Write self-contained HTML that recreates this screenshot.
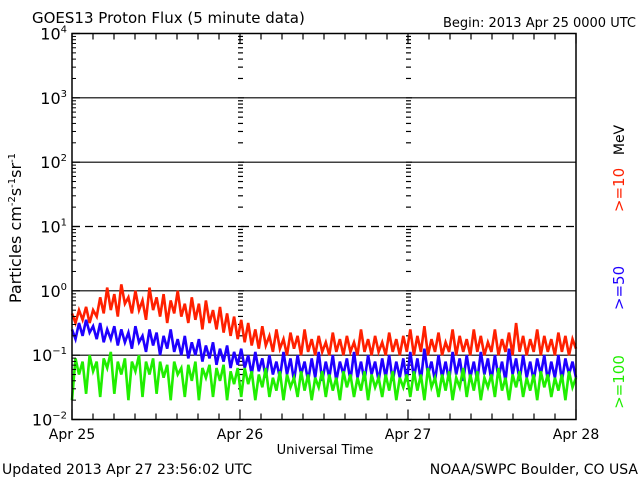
<!DOCTYPE html>
<html><head><meta charset="utf-8"><style>
body{margin:0;background:#fff;}
svg{display:block;font-family:"DejaVu Sans","Liberation Sans",sans-serif;}
</style></head><body>
<svg id="c" width="640" height="480" viewBox="0 0 640 480">
<text x="32" y="23" font-size="15">GOES13 Proton Flux (5 minute data)</text>
<text x="636" y="27" font-size="13" text-anchor="end">Begin: 2013 Apr 25 0000 UTC</text>
<text transform="translate(21,228) rotate(-90)" font-size="16" text-anchor="middle">Particles cm<tspan dy="-6" font-size="10">-2</tspan><tspan dy="6">s</tspan><tspan dy="-6" font-size="10">-1</tspan><tspan dy="6">sr</tspan><tspan dy="-6" font-size="10">-1</tspan></text>
<text transform="translate(624,140) rotate(-90)" font-size="14" text-anchor="middle">MeV</text>
<text transform="translate(624,190) rotate(-90)" font-size="15" fill="#ff2000" text-anchor="middle">&gt;=10</text>
<text transform="translate(624,288) rotate(-90)" font-size="15" fill="#1f00ff" text-anchor="middle">&gt;=50</text>
<text transform="translate(624,382) rotate(-90)" font-size="15" fill="#20ee00" text-anchor="middle">&gt;=100</text>
<text x="325" y="454" font-size="13" text-anchor="middle">Universal Time</text>
<text x="2" y="474" font-size="14">Updated 2013 Apr 27 23:56:02 UTC</text>
<text x="638" y="474" font-size="14" text-anchor="end">NOAA/SWPC Boulder, CO USA</text>
<g id="grid"></g><g id="series"></g><g id="axes"></g>
</svg>
<script>
const dayLabels=["Apr 25","Apr 26","Apr 27","Apr 28"];
const decades=[-2,-1,0,1,2,3,4];
const solidGrid=[3,2,0,-1];
const dashedGrid=[1];
const redVals=[-0.35,-0.5,-0.3,-0.45,-0.25,-0.5,-0.3,-0.4,-0.1,-0.35,0.05,-0.3,-0.05,-0.4,0.1,-0.2,-0.1,-0.35,0.0,-0.3,-0.15,-0.45,0.05,-0.3,-0.1,-0.4,-0.05,-0.5,-0.15,-0.35,0.0,-0.4,-0.2,-0.5,-0.1,-0.45,-0.2,-0.6,-0.15,-0.5,-0.3,-0.6,-0.25,-0.65,-0.35,-0.7,-0.4,-0.75,
-0.45,-0.8,-0.5,-0.85,-0.6,-0.9,-0.55,-0.85,-0.7,-0.95,-0.6,-0.9,-0.75,-1.0,-0.65,-0.9,-0.7,-1.0,-0.6,-0.95,-0.75,-1.0,-0.7,-0.95,-0.8,-1.0,-0.65,-0.95,-0.75,-1.0,-0.7,-0.95,-0.8,-1.0,-0.6,-0.95,-0.75,-1.0,-0.7,-0.95,-0.8,-1.0,-0.65,-0.95,-0.75,-1.0,-0.7,-0.95,
-0.6,-1.0,-0.7,-0.95,-0.55,-1.0,-0.75,-0.95,-0.65,-1.0,-0.8,-0.95,-0.6,-1.0,-0.7,-0.95,-0.75,-1.0,-0.6,-0.95,-0.7,-1.0,-0.8,-0.95,-0.6,-1.0,-0.75,-0.95,-0.65,-1.0,-0.5,-0.95,-0.7,-1.0,-0.75,-0.95,-0.6,-1.0,-0.7,-0.95,-0.75,-1.0,-0.65,-0.95,-0.7,-1.0,-0.75,-0.9];
const blueVals=[-0.6,-0.75,-0.5,-0.7,-0.45,-0.65,-0.55,-0.75,-0.5,-0.8,-0.6,-0.75,-0.55,-0.85,-0.6,-0.8,-0.65,-0.9,-0.55,-0.8,-0.7,-0.95,-0.6,-0.85,-0.65,-1.0,-0.7,-0.9,-0.6,-0.95,-0.75,-1.0,-0.7,-1.05,-0.8,-1.0,-0.75,-1.1,-0.85,-1.05,-0.8,-1.15,-0.9,-1.1,-0.85,-1.2,-0.95,-1.15,
-0.9,-1.2,-1.0,-1.3,-0.95,-1.25,-1.05,-1.35,-1.0,-1.3,-1.1,-1.35,-0.95,-1.3,-1.05,-1.4,-1.0,-1.3,-1.1,-1.4,-1.05,-1.35,-0.95,-1.4,-1.1,-1.35,-1.0,-1.4,-1.1,-1.3,-1.05,-1.4,-0.95,-1.35,-1.1,-1.4,-1.0,-1.3,-1.1,-1.4,-1.05,-1.35,-1.0,-1.4,-1.1,-1.35,-1.05,-1.4,
-0.95,-1.35,-1.05,-1.4,-0.9,-1.3,-1.1,-1.4,-1.0,-1.35,-1.1,-1.4,-0.95,-1.3,-1.05,-1.4,-1.0,-1.35,-1.1,-1.4,-0.95,-1.3,-1.05,-1.4,-1.0,-1.35,-1.1,-1.4,-0.9,-1.3,-1.05,-1.4,-1.0,-1.35,-1.1,-1.4,-1.05,-1.3,-1.0,-1.4,-1.1,-1.35,-1.0,-1.4,-1.05,-1.3,-1.1,-1.35];
const greenVals=[-1.7,-1.05,-1.3,-1.1,-1.6,-1.0,-1.25,-1.1,-1.65,-1.05,-1.2,-0.95,-1.6,-1.1,-1.3,-1.05,-1.7,-1.1,-1.25,-1.0,-1.65,-1.1,-1.3,-1.05,-1.6,-1.1,-1.35,-1.15,-1.7,-1.1,-1.3,-1.2,-1.65,-1.15,-1.4,-1.1,-1.7,-1.2,-1.35,-1.15,-1.65,-1.2,-1.4,-1.15,-1.7,-1.25,-1.45,-1.2,
-1.65,-1.2,-1.45,-1.25,-1.7,-1.3,-1.5,-1.2,-1.65,-1.35,-1.55,-1.25,-1.7,-1.3,-1.5,-1.35,-1.65,-1.25,-1.55,-1.3,-1.7,-1.35,-1.5,-1.25,-1.65,-1.3,-1.55,-1.35,-1.7,-1.25,-1.5,-1.3,-1.65,-1.35,-1.55,-1.25,-1.7,-1.3,-1.5,-1.35,-1.65,-1.3,-1.55,-1.25,-1.7,-1.35,-1.5,-1.3,
-1.65,-1.25,-1.55,-1.3,-1.7,-1.2,-1.5,-1.35,-1.65,-1.3,-1.55,-1.25,-1.7,-1.35,-1.5,-1.2,-1.65,-1.3,-1.55,-1.25,-1.7,-1.35,-1.5,-1.3,-1.65,-1.2,-1.55,-1.35,-1.7,-1.3,-1.5,-1.25,-1.65,-1.35,-1.55,-1.3,-1.7,-1.25,-1.5,-1.3,-1.65,-1.35,-1.55,-1.3,-1.7,-1.25,-1.5,-1.35];
const X0=72,X1=576,Y0=419.5,Y1=33.5;
const xScale=d=>X0+(X1-X0)*d/3;
const yScale=l=>Y0-(Y0-Y1)*(l+2)/6;
const NS="http://www.w3.org/2000/svg";
function mk(tag,attrs,parent){const e=document.createElementNS(NS,tag);for(const k in attrs)e.setAttribute(k,attrs[k]);parent.appendChild(e);return e;}
const grid=document.getElementById('grid'),ser=document.getElementById('series'),ax=document.getElementById('axes');
solidGrid.forEach(l=>{const e=mk('line',{x1:X0,x2:X1,y1:yScale(l),y2:yScale(l),stroke:'#000','stroke-width':1.2},grid);

});
dashedGrid.forEach(l=>{const e=mk('line',{x1:X0,x2:X1,y1:yScale(l),y2:yScale(l),stroke:'#000','stroke-width':1.2,'stroke-dasharray':'8,5'},grid);

});
[1,2].forEach(d=>{for(let dec=-2;dec<4;dec++){for(let m=1;m<=9;m++){const y=yScale(dec+Math.log10(m));const e=mk('line',{x1:xScale(d)-2,x2:xScale(d)+(m==1?4:3),y1:y,y2:y,stroke:'#000','stroke-width':1.2},grid);

}}});
function series(vals,color,name){const n=vals.length;let p='';vals.forEach((v,i)=>{p+=(i?'L':'M')+xScale(3*i/(n-1)).toFixed(1)+','+yScale(v).toFixed(1);});
const e=mk('path',{d:p,fill:'none',stroke:color,'stroke-width':2.6,'stroke-linejoin':'miter'},ser);

}
series(redVals,'#ff2000','series-ge10-mev');
series(blueVals,'#1f00ff','series-ge50-mev');
series(greenVals,'#20ee00','series-ge100-mev');
const fr=mk('rect',{x:X0,y:Y1,width:X1-X0,height:Y0-Y1,fill:'none',stroke:'#000','stroke-width':1.5},ax);


for(let dec=-2;dec<4;dec++){for(let m=2;m<=9;m++){const y=yScale(dec+Math.log10(m));const e=mk('line',{x1:X0,x2:X0+4,y1:y,y2:y,stroke:'#000'},ax);

}}
decades.forEach(l=>{const y=yScale(l);const t=mk('line',{x1:X0,x2:X0+8,y1:y,y2:y,stroke:'#000','stroke-width':1.2},ax);


const g=mk('text',{x:X0-5,y:y+6,'font-size':16,'text-anchor':'end'},ax);


g.innerHTML='10<tspan dy="-7" font-size="10">'+(l<0?'−'+(-l):l)+'</tspan>';});
for(let h=0;h<=72;h+=3){const x=xScale(h/24);const len=h%24==0?10:6;
[[Y0,Y0-len],[Y1,Y1+len]].forEach(([a,b])=>{const e=mk('line',{x1:x,x2:x,y1:a,y2:b,stroke:'#000','stroke-width':1.2},ax);

});}
dayLabels.forEach((s,i)=>{const t=mk('text',{x:xScale(i),y:439,'font-size':14,'text-anchor':'middle'},ax);


t.textContent=s;});
</script>
</body></html>
